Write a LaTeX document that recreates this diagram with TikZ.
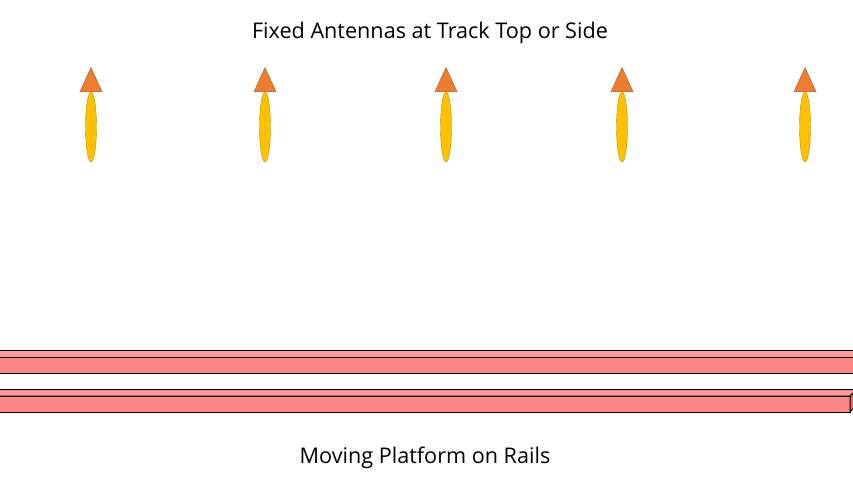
\documentclass[tikz,border=0pt]{standalone}
\usepackage{fontspec}
\setmainfont{Open Sans}
\usepackage{tikz}
\usetikzlibrary{shapes.geometric,positioning}
\definecolor{antfill}{HTML}{FFC000}
\definecolor{antline}{HTML}{BF9000}
\definecolor{tipfill}{HTML}{ED7D31}
\definecolor{tipline}{HTML}{AE5A21}
\definecolor{railfill}{HTML}{FF8585}
\definecolor{railtop}{HTML}{FF9A9A}
\definecolor{railside}{HTML}{D96A6A}

\begin{document}
\begin{tikzpicture}[x=1pt,y=-1pt,
   rod/.style={ellipse,draw=antline,fill=antfill,inner sep=0pt,
      minimum width=11pt,minimum height=70pt},
   tip/.style={isosceles triangle,isosceles triangle stretches,
      shape border rotate=90,draw=tipline,fill=tipfill,inner sep=0pt,
      minimum width=22pt,minimum height=24pt},
   rail/.style={draw=black,line width=1pt,line join=miter},
   caption/.style={font=\fontsize{21.6}{24}\selectfont,inner sep=0pt}]
   \useasboundingbox (0,0) rectangle (853,480);
   \node[caption] (top) at (430,33) {Fixed Antennas at Track Top or Side};
   \node[caption] (bottom) at (425,458) {Moving Platform on Rails};
   % antennas
   \foreach \x [count=\i] in {91,265,446,622,805} {
     \node[rod] (rod\i) at (\x,127) {};
     \node[tip,anchor=lower side] (tip\i) at (rod\i.north) {};
   }
   % rails
   \draw[rail,fill=railtop] (-2,350.5) rectangle (860,357);
   \draw[rail,fill=railfill] (-2,357) rectangle (860,373);
   \draw[rail,fill=railtop] (-2,389.5) -- (857,389.5) -- (850,396) -- (-2,396) -- cycle;
   \draw[rail,fill=railfill] (-2,396) rectangle (850,412);
   \draw[rail,fill=railside] (850,396) -- (857,389.5) -- (857,405) -- (850,412) -- cycle;
\end{tikzpicture}
\end{document}
